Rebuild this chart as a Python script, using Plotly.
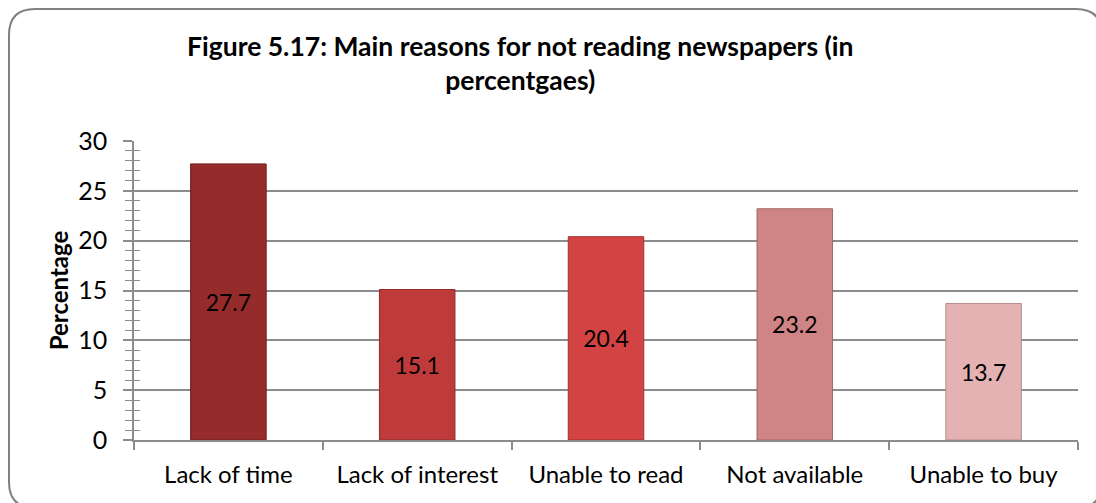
import plotly.graph_objects as go

# Survey results: main reasons for not reading newspapers
reasons = ["Lack of time", "Lack of interest", "Unable to read", "Not available", "Unable to buy"]
percentages = [27.7, 15.1, 20.4, 23.2, 13.7]
bar_colors = ["#962B2B", "#BF3A3A", "#D44343", "#CF8585", "#E4B2B2"]
edge_colors = ["#6E1E1E", "#8E2A2A", "#A03232", "#A56464", "#B88C8C"]
y_ticks = [0, 5, 10, 15, 20, 25, 30]

W, H = 1096, 503
L, R, T, B = 134, 18, 141, 63
PW, PH = W - L - R, H - T - B
FONT = "Lato, Carlito, Calibri, sans-serif"
GRID = "#8C8C8C"


def px(x, y):
    """Pixel position -> paper coordinates."""
    return (x - L) / PW, (H - B - y) / PH


def frame_path(x0, y0, x1, y1, r):
    def P(x, y):
        a, b = px(x, y)
        return f"{a:.5f},{b:.5f}"
    return (f"M {P(x0 + r, y0)} L {P(x1 - r, y0)} Q {P(x1, y0)} {P(x1, y0 + r)} "
            f"L {P(x1, y1 - r)} Q {P(x1, y1)} {P(x1 - r, y1)} "
            f"L {P(x0 + r, y1)} Q {P(x0, y1)} {P(x0, y1 - r)} "
            f"L {P(x0, y0 + r)} Q {P(x0, y0)} {P(x0 + r, y0)} Z")


fig = go.Figure()
fig.add_trace(go.Bar(
    x=reasons, y=percentages, width=0.4,
    marker=dict(color=bar_colors, line=dict(color=edge_colors, width=1)),
    text=[f"{v:.1f}" for v in percentages],
    textposition="inside", insidetextanchor="middle",
    textfont=dict(family=FONT, size=23, color="#000000"),
    textangle=0, cliponaxis=False, hoverinfo="x+y",
))
# invisible helper trace to activate the overlay axis (inner half of the cross ticks)
fig.add_trace(go.Scatter(x=[reasons[0]], y=[0], yaxis="y2", mode="markers",
                         marker=dict(opacity=0), showlegend=False, hoverinfo="skip"))

fig.update_layout(
    width=W, height=H,
    margin=dict(l=L, r=R, t=T, b=B),
    paper_bgcolor="white", plot_bgcolor="white",
    showlegend=False,
    font=dict(family=FONT, size=24, color="#000000"),
    bargap=0.6,
    xaxis=dict(
        type="category", tickson="boundaries",
        ticks="outside", ticklen=8, tickcolor=GRID, tickwidth=1.5,
        showline=True, linecolor=GRID, linewidth=1.5,
        showgrid=False, ticklabelstandoff=12,
        tickfont=dict(family=FONT, size=24),
    ),
    yaxis=dict(
        range=[0, 30], tickvals=y_ticks,
        ticks="outside", ticklen=9, tickcolor=GRID, tickwidth=1.5,
        minor=dict(dtick=1, ticks="outside", ticklen=7, tickcolor=GRID, tickwidth=1.2, showgrid=False),
        showline=True, linecolor=GRID, linewidth=1.5,
        showgrid=True, gridcolor=GRID, gridwidth=1.5,
        ticklabelstandoff=11, zeroline=False,
        tickfont=dict(family=FONT, size=25),
        title=dict(text="<b>Percentage</b>", font=dict(family=FONT, size=24), standoff=3),
    ),
    yaxis2=dict(
        overlaying="y", side="left", range=[0, 30], tickvals=y_ticks,
        ticks="inside", ticklen=6, tickcolor=GRID, tickwidth=1.5,
        minor=dict(dtick=1, ticks="inside", ticklen=6, tickcolor=GRID, tickwidth=1.2, showgrid=False),
        showticklabels=False, showgrid=False, zeroline=False, showline=False,
    ),
    annotations=[dict(
        text="<b>Figure 5.17: Main reasons for not reading newspapers (in<br>percentgaes)</b>",
        xref="paper", yref="paper", x=px(520, 0)[0], y=px(0, 63)[1],
        xanchor="center", yanchor="middle", showarrow=False, align="center",
        font=dict(family=FONT, size=26.5, color="#000000"),
    )],
    shapes=[dict(
        type="path", xref="paper", yref="paper",
        path=frame_path(9, 9, 1102, 508, 26),
        line=dict(color="#808080", width=2), fillcolor="rgba(0,0,0,0)", layer="below",
    )],
)

fig.write_html("out.html")
